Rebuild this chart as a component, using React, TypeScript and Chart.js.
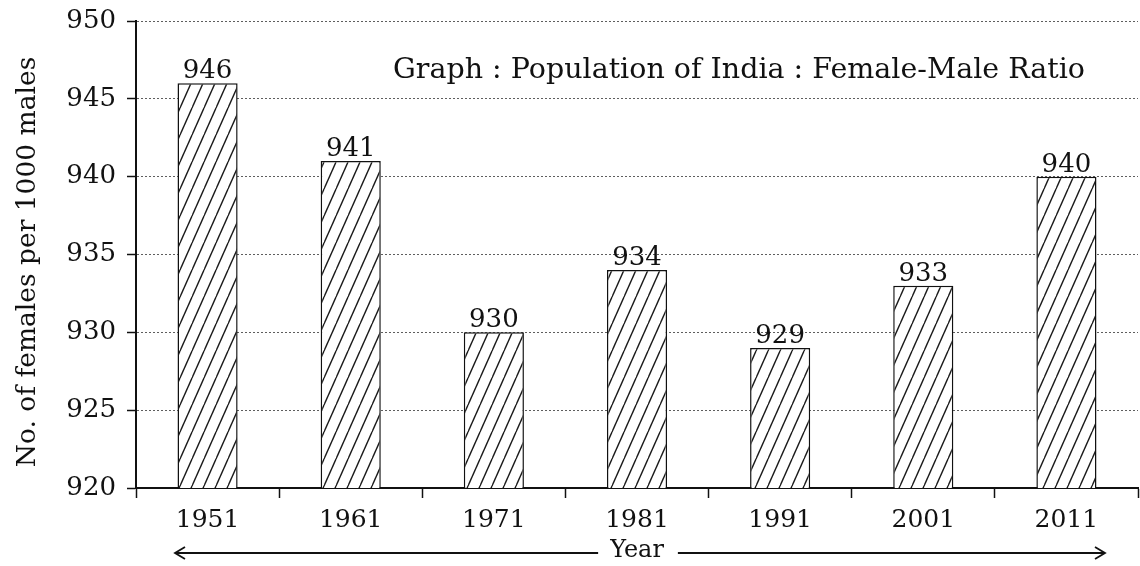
import React, { useEffect, useRef } from "react";
import { Chart, registerables } from "chart.js";

Chart.register(...registerables);

const years: string[] = ["1951", "1961", "1971", "1981", "1991", "2001", "2011"];
const ratios: number[] = [946, 941, 930, 934, 929, 933, 940];
const yTitle = "No. of females per 1000 males";
const xTitle = "Year";
const chartTitle = "Graph : Population of India : Female-Male Ratio";
const yMin = 920;
const yMax = 950;
const yStep = 5;

const FONT = "'DejaVu Serif', serif";

function makeHatch(): CanvasPattern | string {
  const w = 12;
  const h = 27;
  const c = document.createElement("canvas");
  c.width = w;
  c.height = h;
  const g = c.getContext("2d");
  if (!g) return "#fff";
  g.fillStyle = "#fff";
  g.fillRect(0, 0, w, h);
  g.strokeStyle = "#1a1a1a";
  g.lineWidth = 1.4;
  for (let k = -1; k <= 1; k++) {
    g.beginPath();
    g.moveTo(w + k * w, 0);
    g.lineTo(0 + k * w, h);
    g.stroke();
  }
  const p = g.createPattern(c, "repeat");
  return p || "#fff";
}

const valueLabels = {
  id: "valueLabels",
  afterDatasetsDraw(chart: any) {
    const ctx = chart.ctx;
    const meta = chart.getDatasetMeta(0);
    const data = chart.data.datasets[0].data;
    ctx.save();
    ctx.font = `26px ${FONT}`;
    ctx.fillStyle = "#111";
    ctx.textAlign = "center";
    ctx.textBaseline = "alphabetic";
    meta.data.forEach((bar: any, i: number) => {
      ctx.fillText(String(data[i]), bar.x, bar.y - 5);
    });
    ctx.restore();
  },
};

const insideTitle = {
  id: "insideTitle",
  afterDraw(chart: any) {
    const ctx = chart.ctx;
    const { right, top, bottom } = chart.chartArea;
    ctx.save();
    ctx.font = `28.5px ${FONT}`;
    ctx.fillStyle = "#111";
    ctx.textAlign = "right";
    ctx.textBaseline = "alphabetic";
    ctx.fillText(chartTitle, right - 53, top + 57);
    // y axis title
    ctx.font = `26.5px ${FONT}`;
    ctx.textAlign = "center";
    ctx.textBaseline = "middle";
    ctx.translate(28, (top + bottom) / 2 + 7.5);
    ctx.rotate(-Math.PI / 2);
    ctx.fillText(yTitle, 0, 0);
    ctx.restore();
  },
};

const yearArrows = {
  id: "yearArrows",
  afterDraw(chart: any) {
    const ctx = chart.ctx;
    const { left, right } = chart.chartArea;
    const xs = chart.scales.x;
    const y = xs.bottom - 13;
    ctx.save();
    ctx.font = `24px ${FONT}`;
    const tw = ctx.measureText(xTitle).width;
    const cx = (left + right) / 2;
    const lStart = left + 39;
    const lEnd = cx - tw / 2 - 12;
    const rStart = cx + tw / 2 + 14;
    const rEnd = right - 33;
    ctx.strokeStyle = "#111";
    ctx.lineWidth = 1.8;
    ctx.beginPath();
    ctx.moveTo(lStart, y);
    ctx.lineTo(lEnd, y);
    ctx.moveTo(rStart, y);
    ctx.lineTo(rEnd, y);
    ctx.moveTo(lStart + 10, y - 6);
    ctx.lineTo(lStart, y);
    ctx.lineTo(lStart + 10, y + 6);
    ctx.moveTo(rEnd - 10, y - 6);
    ctx.lineTo(rEnd, y);
    ctx.lineTo(rEnd - 10, y + 6);
    ctx.stroke();
    ctx.restore();
  },
};

export default function App() {
  const ref = useRef<HTMLCanvasElement | null>(null);

  useEffect(() => {
    if (!ref.current) return;
    const hatch = makeHatch();
    const chart = new Chart(ref.current, {
      type: "bar",
      data: {
        labels: years,
        datasets: [
          {
            data: ratios,
            backgroundColor: hatch as any,
            borderColor: "#111",
            borderWidth: 1.5,
            barPercentage: 0.42,
            categoryPercentage: 1,
          },
        ],
      },
      options: {
        responsive: false,
        animation: false,
        layout: { padding: { top: 21, right: 2, left: 0, bottom: 0 } },
        plugins: {
          legend: { display: false },
          tooltip: { enabled: false },
          title: { display: false },
        },
        scales: {
          x: {
            type: "category",
            offset: true,
            grid: {
              display: true,
              drawOnChartArea: false,
              drawTicks: true,
              tickLength: 10,
              tickColor: "#111",
              tickWidth: 1.5,
              offset: true,
            },
            border: { display: true, color: "#111", width: 2 },
            ticks: {
              color: "#111",
              font: { family: FONT, size: 25 },
              padding: 7,
              maxRotation: 0,
            },
            title: {
              display: true,
              text: xTitle,
              color: "#111",
              font: { family: FONT, size: 24 },
              padding: { top: 0, bottom: 1 },
            },
            afterFit(scale: any) {
              scale.height = 78;
            },
          },
          y: {
            min: yMin,
            max: yMax,
            grid: {
              color: (c: any) => (c.tick && c.tick.value === yMin ? "rgba(0,0,0,0)" : "#5e5e5e"),
              lineWidth: 1,
              drawTicks: true,
              tickLength: 9,
              tickColor: "#111",
              tickWidth: 1.5,
              tickBorderDash: [],
            },
            border: { display: true, color: "#111", width: 2, dash: [2, 2] },
            ticks: {
              stepSize: yStep,
              color: "#111",
              font: { family: FONT, size: 26 },
              padding: 11,
            },
            title: { display: false },
            afterFit(scale: any) {
              scale.width = 136;
              scale.paddingTop = 4;
              scale.paddingBottom = 4;
            },
          },
        },
      },
      plugins: [valueLabels, insideTitle, yearArrows],
    });
    return () => chart.destroy();
  }, []);

  return (
    <div style={{ position: "fixed", left: 0, top: 0, width: 1140, height: 566, background: "#fff" }}>
      <canvas ref={ref} width={1140} height={566} style={{ display: "block" }} />
    </div>
  );
}
